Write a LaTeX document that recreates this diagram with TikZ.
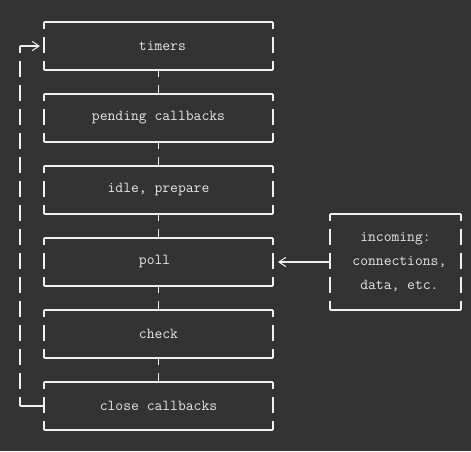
\documentclass[tikz,border=0pt]{standalone}
\usepackage{fontspec}
\usetikzlibrary{arrows.meta}
\definecolor{bgc}{HTML}{333333}
\definecolor{linec}{HTML}{F0F0F0}
\definecolor{textc}{HTML}{E6E6E6}
\tikzset{phase/.style={minimum width=171.75pt,minimum height=36pt,inner sep=0pt,outer sep=0pt,
                       text=textc,font=\ttfamily\fontsize{11.4}{18}\selectfont},
         srcbox/.style={phase,minimum width=98.25pt,minimum height=72pt,align=center},
         wire/.style={draw=linec,line width=0.85pt},
         side/.style={wire,dash pattern=on 12pt off 6pt,dash phase=6.75pt},
         chevron/.style={-{Straight Barb[length=5.25pt,width=7pt,line width=0.75pt]}},
        }

\begin{document}
\begin{tikzpicture}[x=0.75pt,y=-0.75pt]
        \fill[bgc](0,0)rectangle(471,451);
        \useasboundingbox(0,0)rectangle(471,451);

        \node[phase](timers)at(158.5,46){\hphantom{x}timers};
        \node[phase](pending)at(158.5,118){pending callbacks};
        \node[phase](idle)at(158.5,190){idle, prepare};
        \node[phase](poll)at(158.5,262){poll\hphantom{x}};
        \node[phase](check)at(158.5,334){check};
        \node[phase](close)at(158.5,406){close callbacks};
        \node[srcbox](incoming)at(395.5,262){incoming:\\\hphantom{x}connections,\\\hphantom{x}data, etc.};

        \foreach \b in {timers,pending,idle,poll,check,close,incoming}{
            \draw[wire](\b.north west)--(\b.north east);
            \draw[wire](\b.south west)--(\b.south east);
            \draw[side](\b.north west)--(\b.south west);
            \draw[side](\b.north east)--(\b.south east);
        }

        \foreach \a/\b in {timers/pending,pending/idle,idle/poll,poll/check,check/close}
            \draw[side](\a.south)--(\b.north);

        \draw[wire,chevron,shorten >=3.75pt](incoming.west)--(poll.east);

        % loop back to timers
        \coordinate(looptop)at(20,46);
        \coordinate(loopbot)at(20,406);
        \draw[wire](close.west)--(loopbot);
        \draw[side](looptop)--(loopbot);
        \draw[wire,chevron,shorten >=3pt](looptop)--(timers.west);
    \end{tikzpicture}
\end{document}
